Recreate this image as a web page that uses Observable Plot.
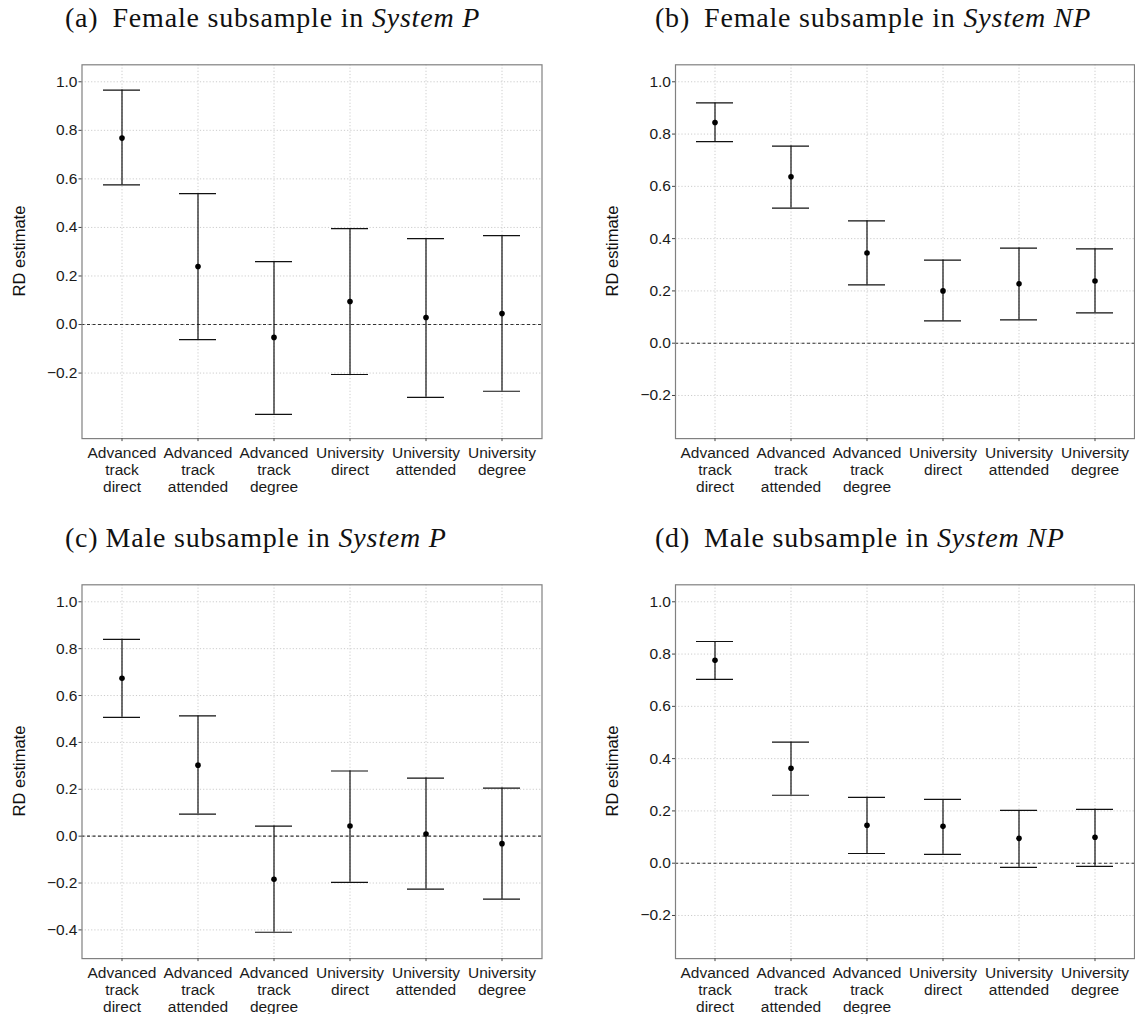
<!DOCTYPE html>
<html>
<head>
<meta charset="utf-8">
<script src="https://cdn.jsdelivr.net/npm/d3@7"></script>
<script src="https://cdn.jsdelivr.net/npm/@observablehq/plot@0.6"></script>
<style>
  html, body { margin: 0; padding: 0; background: #ffffff; }
  #page { position: relative; width: 1135px; height: 1014px; background: #ffffff; overflow: hidden; }
  .panel { position: absolute; }
  .title { position: absolute; font-family: "Liberation Serif", "DejaVu Serif", serif; font-size: 28px; line-height: 28px; letter-spacing: 0.8px; color: #111; white-space: nowrap; }
  .ylab { position: absolute; font-family: "Liberation Sans", Arial, sans-serif; font-size: 16.5px; color: #111; white-space: nowrap; transform: translate(-50%, -50%) rotate(-90deg); line-height: 1; }
</style>
</head>
<body>
<div id="page"></div>
<script>
// ---- data ----
const categories = ["Advanced track direct", "Advanced track attended", "Advanced track degree", "University direct", "University attended", "University degree"];
const tickLabels = ["Advanced\ntrack\ndirect", "Advanced\ntrack\nattended", "Advanced\ntrack\ndegree", "University\ndirect", "University\nattended", "University\ndegree"];

const femaleP_est = [0.768, 0.239, -0.053, 0.095, 0.029, 0.045];
const femaleP_lo  = [0.575, -0.062, -0.370, -0.206, -0.300, -0.275];
const femaleP_hi  = [0.966, 0.539, 0.259, 0.395, 0.354, 0.366];

const femaleNP_est = [0.844, 0.637, 0.345, 0.200, 0.227, 0.238];
const femaleNP_lo  = [0.771, 0.517, 0.223, 0.085, 0.089, 0.116];
const femaleNP_hi  = [0.919, 0.754, 0.468, 0.318, 0.364, 0.361];

const maleP_est = [0.674, 0.303, -0.184, 0.043, 0.009, -0.032];
const maleP_lo  = [0.507, 0.094, -0.410, -0.197, -0.226, -0.269];
const maleP_hi  = [0.840, 0.513, 0.043, 0.278, 0.248, 0.205];

const maleNP_est = [0.776, 0.363, 0.145, 0.141, 0.095, 0.099];
const maleNP_lo  = [0.703, 0.260, 0.037, 0.034, -0.016, -0.012];
const maleNP_hi  = [0.848, 0.463, 0.252, 0.244, 0.202, 0.206];

const ticksA = [-0.2, 0, 0.2, 0.4, 0.6, 0.8, 1.0];
const ticksC = [-0.4, -0.2, 0, 0.2, 0.4, 0.6, 0.8, 1.0];

const domainA = [-0.47, 1.07];
const domainB = [-0.365, 1.065];
const domainC = [-0.5225, 1.0725];
const domainD = [-0.365, 1.065];

const panels = [
  {title: "(a)", gap: true, sub: "Female subsample in ", sys: "System P", est: femaleP_est, lo: femaleP_lo, hi: femaleP_hi, domain: domainA, ticks: ticksA, col: 0, row: 0},
  {title: "(b)", gap: true, sub: "Female subsample in ", sys: "System NP", est: femaleNP_est, lo: femaleNP_lo, hi: femaleNP_hi, domain: domainB, ticks: ticksA, col: 1, row: 0},
  {title: "(c)", gap: false, sub: "Male subsample in ", sys: "System P", est: maleP_est, lo: maleP_lo, hi: maleP_hi, domain: domainC, ticks: ticksC, col: 0, row: 1},
  {title: "(d)", gap: true, sub: "Male subsample in ", sys: "System NP", est: maleNP_est, lo: maleNP_lo, hi: maleNP_hi, domain: domainD, ticks: ticksA, col: 1, row: 1}
];

// ---- layout ----
const page = document.getElementById("page");
const fmt = d3.format(".1f");
const titleLeft = [65, 655];
const svgLeft = [0, 590];
const svgWidth = [560, 545];
const mLeft = [81.5, 85];
const mRight = [18.5, 1];
const rowTop = [0, 520];
const rowHeight = [510, 494];
const plotTop = 64.3;
const plotH = 373.8;

for (const p of panels) {
  const data = categories.map((c, i) => ({cat: c, est: p.est[i], lo: p.lo[i], hi: p.hi[i]}));
  const H = rowHeight[p.row];
  const chart = Plot.plot({
    width: svgWidth[p.col],
    height: H,
    marginTop: plotTop,
    marginBottom: H - plotTop - plotH,
    marginLeft: mLeft[p.col],
    marginRight: mRight[p.col],
    style: {fontFamily: "'Liberation Sans', Arial, sans-serif", fontSize: "15.5px", color: "#1a1a1a", background: "transparent", overflow: "visible"},
    x: {type: "band", domain: categories, paddingInner: 0.513, paddingOuter: 0.275, align: 0.5},
    y: {domain: p.domain},
    marks: [
      Plot.gridY(p.ticks, {stroke: "#cccccc", strokeOpacity: 1, strokeWidth: 1, strokeDasharray: "1.2,2"}),
      Plot.gridX(categories, {stroke: "#cccccc", strokeOpacity: 1, strokeWidth: 1, strokeDasharray: "1.2,2"}),
      Plot.ruleY([0], {stroke: "#333", strokeWidth: 1.1, strokeDasharray: "3,2.5"}),
      Plot.ruleX(data, {x: "cat", y1: "lo", y2: "hi", stroke: "#111", strokeWidth: 1.2}),
      Plot.tickY(data, {x: "cat", y: "hi", stroke: "#111", strokeWidth: 1.2}),
      Plot.tickY(data, {x: "cat", y: "lo", stroke: "#111", strokeWidth: 1.2}),
      Plot.dot(data, {x: "cat", y: "est", r: 2.8, fill: "#000", stroke: null}),
      Plot.frame({stroke: "#808080", strokeWidth: 1.2}),
      Plot.axisY(p.ticks, {tickFormat: fmt, tickSize: 3, tickPadding: 1.5, label: null, stroke: "#444", fill: "#1a1a1a", fontSize: 15.5}),
      Plot.axisX(categories, {tickFormat: d => tickLabels[categories.indexOf(d)], tickSize: 3, tickPadding: 4, label: null, stroke: "#444", fill: "#1a1a1a", fontSize: 15.5, lineHeight: 1.1})
    ]
  });
  chart.classList.add("panel");
  chart.style.left = svgLeft[p.col] + "px";
  chart.style.top = rowTop[p.row] + "px";
  page.appendChild(chart);

  const t = document.createElement("div");
  t.className = "title";
  t.style.left = titleLeft[p.col] + "px";
  t.style.top = (rowTop[p.row] + 4) + "px";
  const a = document.createElement("span");
  a.textContent = p.title;
  a.style.marginRight = p.gap ? "14px" : "7px";
  t.appendChild(a);
  t.appendChild(document.createTextNode(p.sub));
  const it = document.createElement("i");
  it.textContent = p.sys;
  t.appendChild(it);
  page.appendChild(t);

  const yl = document.createElement("div");
  yl.className = "ylab";
  yl.textContent = "RD estimate";
  yl.style.left = (svgLeft[p.col] + mLeft[p.col] - 63) + "px";
  yl.style.top = (rowTop[p.row] + plotTop + plotH / 2) + "px";
  page.appendChild(yl);
}
</script>
</body>
</html>
